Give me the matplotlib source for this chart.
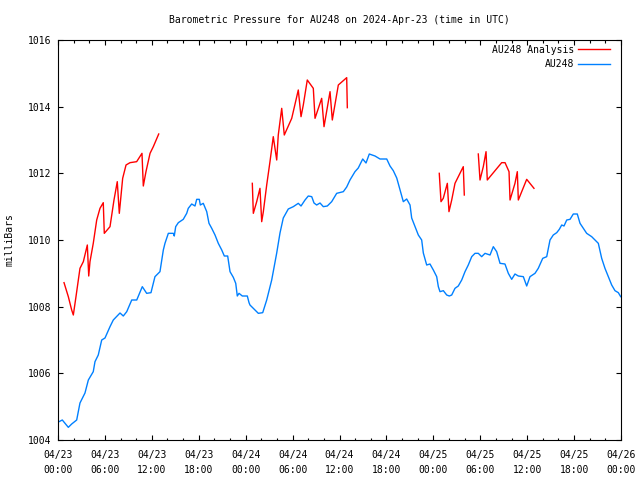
import numpy as np
import matplotlib
matplotlib.use("Agg")
import matplotlib.pyplot as plt
from matplotlib.ticker import MultipleLocator

nan = float("nan")

# hours since 2024-04-23 00:00 UTC, pressure in mb
obs_hours = [0.13, 0.55, 1.32, 1.75, 2.39, 2.81, 3.45, 3.88, 4.51, 4.73, 5.15, 5.59, 6.01, 6.65, 7.07,
             7.93, 8.35, 8.79, 9.43, 10.07, 10.78, 11.34, 11.89, 12.4, 13.04, 13.47, 13.68, 14.11,
             14.75, 14.87, 15.05, 15.39, 16.02, 16.46, 16.66, 17.10, 17.52, 17.74, 18.07, 18.20,
             18.58, 19.02, 19.31, 19.66, 20.08, 20.50, 20.94, 21.27, 21.70, 22.00, 22.42, 22.73,
             22.93, 23.15, 23.57, 24.21, 24.43, 24.55, 25.19, 25.62, 26.18, 26.69, 27.33, 27.97,
             28.39, 28.81, 29.45, 30.09, 30.73, 31.08, 31.59, 32.01, 32.45, 32.74, 33.08, 33.51,
             33.93, 34.44, 35.00, 35.64, 36.49, 36.92, 37.34, 37.98, 38.40, 38.97, 39.39, 39.81,
             40.54, 41.18, 42.04, 42.46, 42.88, 43.32, 43.74, 44.16, 44.59, 45.02, 45.23, 45.66,
             46.08, 46.51, 46.72, 47.15, 47.57, 48.00, 48.43, 48.64, 48.85, 49.28, 49.71, 50.04,
             50.35, 50.77, 51.19, 51.63, 52.05, 52.47, 52.91, 53.33, 53.75, 54.18, 54.61, 55.25,
             55.67, 56.10, 56.53, 57.16, 57.59, 58.02, 58.44, 58.87, 59.51, 59.94, 60.36, 61.00,
             61.42, 61.99, 62.50, 62.92, 63.34, 63.78, 64.11, 64.42, 64.71, 65.06, 65.48, 65.90,
             66.41, 66.76, 67.18, 67.61, 68.25, 68.68, 69.10, 69.53, 69.95, 70.38, 70.81, 71.23,
             71.66, 71.96]
obs_mb = [1004.55, 1004.60, 1004.38, 1004.48, 1004.60, 1005.11, 1005.41, 1005.80, 1006.05, 1006.35,
          1006.55, 1007.00, 1007.06, 1007.40, 1007.60, 1007.81, 1007.72, 1007.85, 1008.20, 1008.20,
          1008.60, 1008.40, 1008.42, 1008.90, 1009.05, 1009.70, 1009.90, 1010.20, 1010.20, 1010.12,
          1010.40, 1010.52, 1010.62, 1010.80, 1010.95, 1011.08, 1011.02, 1011.22, 1011.22, 1011.05,
          1011.10, 1010.85, 1010.50, 1010.35, 1010.15, 1009.90, 1009.70, 1009.52, 1009.52, 1009.05,
          1008.88, 1008.70, 1008.32, 1008.40, 1008.32, 1008.32, 1008.12, 1008.05, 1007.90, 1007.80,
          1007.82, 1008.20, 1008.80, 1009.61, 1010.21, 1010.66, 1010.93, 1011.00, 1011.10, 1011.02,
          1011.20, 1011.32, 1011.30, 1011.11, 1011.05, 1011.11, 1011.00, 1011.02, 1011.15, 1011.40,
          1011.45, 1011.59, 1011.80, 1012.05, 1012.16, 1012.43, 1012.31, 1012.58, 1012.52, 1012.43,
          1012.43, 1012.22, 1012.08, 1011.86, 1011.50, 1011.15, 1011.23, 1011.05, 1010.66, 1010.40,
          1010.15, 1010.00, 1009.61, 1009.25, 1009.28, 1009.10, 1008.90, 1008.60, 1008.45, 1008.48,
          1008.35, 1008.32, 1008.35, 1008.55, 1008.62, 1008.80, 1009.05, 1009.25, 1009.50, 1009.60,
          1009.60, 1009.50, 1009.60, 1009.55, 1009.80, 1009.65, 1009.30, 1009.28, 1009.00, 1008.82,
          1008.98, 1008.92, 1008.90, 1008.62, 1008.90, 1009.00, 1009.15, 1009.45, 1009.50, 1010.00,
          1010.15, 1010.22, 1010.32, 1010.45, 1010.42, 1010.60, 1010.62, 1010.78, 1010.78, 1010.50,
          1010.35, 1010.20, 1010.10, 1010.00, 1009.90, 1009.45, 1009.15, 1008.90, 1008.65, 1008.48,
          1008.42, 1008.30]

# analysis series, gaps marked with nan
ana_hours = [0.77, 1.32, 1.75, 1.96, 2.30, 2.60, 2.81, 3.24, 3.75, 3.93, 4.09, 4.51, 4.95, 5.37, 5.79,
             5.92, 6.65, 7.16, 7.58, 7.84, 8.27, 8.70, 9.21, 10.06, 10.74, 10.91, 11.25, 11.77, 12.19,
             12.88, nan,
             24.85, 24.98, 25.41, 25.83, 26.05, 26.26, 26.69, 27.11, 27.53, 27.97, 28.17, 28.61, 28.94,
             29.89, 30.73, 31.08, 31.37, 31.88, 32.65, 32.87, 33.72, 34.02, 34.79, 35.08, 35.85,
             36.92, 37.00, nan,
             48.76, 48.98, 49.27, 49.79, 50.00, 50.35, 50.77, 51.83, 51.96, nan,
             53.75, 53.97, 54.39, 54.74, 54.90, 56.74, 57.17, 57.68, 57.81, 58.44, 58.74, 58.87,
             59.94, 60.87]
ana_mb = [1008.72, 1008.30, 1007.90, 1007.75, 1008.30, 1008.80, 1009.15, 1009.35, 1009.85, 1008.92,
          1009.35, 1009.90, 1010.60, 1010.95, 1011.12, 1010.20, 1010.40, 1011.20, 1011.75, 1010.80,
          1011.85, 1012.25, 1012.32, 1012.35, 1012.60, 1011.62, 1012.05, 1012.60, 1012.80, 1013.18,
          nan,
          1011.70, 1010.80, 1011.15, 1011.55, 1010.55, 1010.85, 1011.65, 1012.35, 1013.10, 1012.40,
          1013.15, 1013.95, 1013.15, 1013.65, 1014.50, 1013.70, 1014.05, 1014.80, 1014.55, 1013.65,
          1014.25, 1013.40, 1014.45, 1013.60, 1014.65, 1014.87, 1013.97, nan,
          1012.00, 1011.15, 1011.25, 1011.70, 1010.85, 1011.20, 1011.70, 1012.20, 1011.35, nan,
          1012.58, 1011.80, 1012.20, 1012.65, 1011.80, 1012.32, 1012.32, 1012.05, 1011.20, 1011.70,
          1012.05, 1011.20, 1011.82, 1011.55]

tick_hours = list(range(0, 73, 6))
tick_labels = ["04/23\n00:00", "04/23\n06:00", "04/23\n12:00", "04/23\n18:00",
               "04/24\n00:00", "04/24\n06:00", "04/24\n12:00", "04/24\n18:00",
               "04/25\n00:00", "04/25\n06:00", "04/25\n12:00", "04/25\n18:00",
               "04/26\n00:00"]

plt.rcParams['font.family'] = 'DejaVu Sans Mono'
plt.rcParams['font.size'] = 7

fig = plt.figure(figsize=(6.4, 4.8), dpi=100)
ax = fig.add_axes([58 / 640, 1 - 440 / 480, 563 / 640, 400 / 480])

ax.plot(ana_hours, ana_mb, color='#ff0000', lw=1.0, label='AU248 Analysis')
ax.plot(obs_hours, obs_mb, color='#0080ff', lw=1.0, label='AU248')

ax.set_xlim(0, 72)
ax.set_ylim(1004, 1016)
ax.set_xticks(tick_hours)
ax.set_xticklabels(tick_labels, linespacing=1.6)
ax.xaxis.set_minor_locator(MultipleLocator(2))
ax.yaxis.set_major_locator(MultipleLocator(2))
ax.tick_params(which='both', direction='in', top=True, right=True, width=0.8)
ax.tick_params(which='major', length=3.5)
ax.tick_params(which='minor', length=1.8)
ax.tick_params(axis='x', pad=7)
ax.tick_params(axis='y', pad=5)
for s in ax.spines.values():
    s.set_linewidth(0.8)

ax.set_title('Barometric Pressure for AU248 on 2024-Apr-23 (time in UTC)', pad=12, fontsize=7)
fig.text(10 / 640, 0.5, 'milliBars', rotation=90, ha='center', va='center')

ax.legend(loc='upper right', bbox_to_anchor=(1 - 3.5 / 563, 1 + 3 / 400), frameon=False,
          markerfirst=False, handlelength=3.3, handletextpad=0.35, labelspacing=0.45,
          borderaxespad=0.4)

fig.savefig('out.png', dpi=100)
